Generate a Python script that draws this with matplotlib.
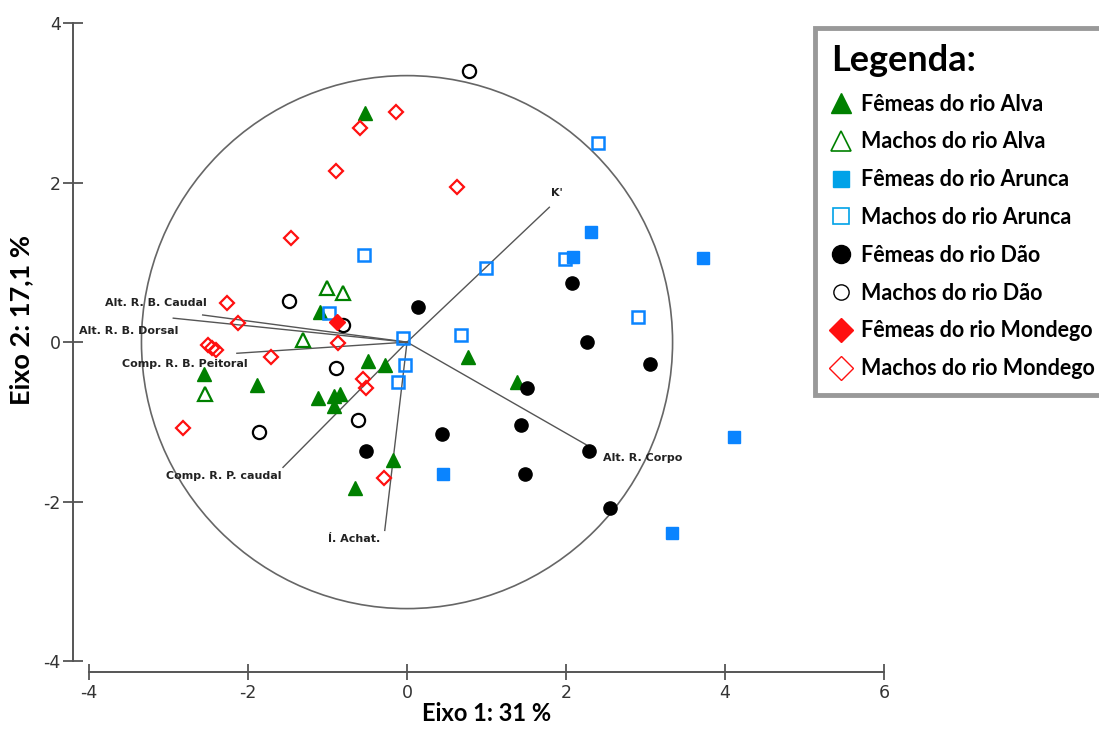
import matplotlib
matplotlib.use("Agg")
import matplotlib.pyplot as plt
from matplotlib.lines import Line2D
from matplotlib.patches import Circle

plt.rcParams["axes.unicode_minus"] = False

# PCA scores (Eixo 1, Eixo 2)
femeas_alva_x = [-0.53, -1.09, -2.55, -1.89, -1.12, -0.92, -0.84, -0.92, -0.49, -0.28, 0.77, 1.38, -0.18, -0.65]
femeas_alva_y = [2.87, 0.38, -0.40, -0.54, -0.70, -0.68, -0.65, -0.80, -0.24, -0.29, -0.19, -0.50, -1.48, -1.83]

machos_alva_x = [-1.01, -0.81, -1.31, -2.54]
machos_alva_y = [0.68, 0.61, 0.03, -0.65]

femeas_arunca_x = [2.31, 2.09, 3.72, 4.11, 3.33, 0.45]
femeas_arunca_y = [1.38, 1.07, 1.05, -1.19, -2.39, -1.65]

machos_arunca_x = [2.40, -0.54, 0.99, 1.99, 2.91, 0.68, -0.05, -0.03, -0.11, -0.98]
machos_arunca_y = [2.49, 1.09, 0.93, 1.04, 0.31, 0.09, 0.05, -0.29, -0.50, 0.36]

femeas_dao_x = [0.14, 2.08, 2.26, 3.06, 1.51, 0.44, 1.43, 2.29, 1.48, -0.52, 2.55]
femeas_dao_y = [0.44, 0.74, 0.00, -0.28, -0.58, -1.15, -1.04, -1.37, -1.65, -1.37, -2.08]

machos_dao_x = [0.78, -1.48, -0.80, -0.89, -1.86, -0.62]
machos_dao_y = [3.40, 0.51, 0.21, -0.33, -1.13, -0.98]

femeas_mondego_x = [-0.88]
femeas_mondego_y = [0.25]

machos_mondego_x = [-0.14, -0.59, -0.89, 0.63, -1.46, -2.26, -2.13, -2.50, -2.45, -2.40, -1.71, -0.87, -0.55, -0.52, -0.29, -2.82]
machos_mondego_y = [2.89, 2.68, 2.14, 1.95, 1.30, 0.49, 0.24, -0.04, -0.07, -0.10, -0.19, -0.01, -0.46, -0.58, -1.70, -1.08]

# variable vectors (correlation circle, scaled)
var_names = ["K'", "Alt. R. Corpo", "Alt. R. B. Caudal", "Alt. R. B. Dorsal",
             "Comp. R. B. Peitoral", "Comp. R. P. caudal", "Í. Achat."]
var_x = [1.79, 2.26, -2.57, -2.94, -2.14, -1.56, -0.28]
var_y = [1.69, -1.29, 0.34, 0.30, -0.14, -1.57, -2.36]
circle_radius = 3.34

# label offsets from the vector tips
label_dx = [0.10, 0.21, 0.05, 0.06, 0.14, -0.02, -0.06]
label_dy = [0.18, -0.16, 0.15, -0.16, -0.14, -0.11, -0.11]
label_ha = ["center", "left", "right", "right", "right", "right", "right"]

green = "#008000"
blue = "#0a84ff"
red = "#ff1010"

fig = plt.figure(figsize=(10.99, 7.29), dpi=100)
ax = fig.add_axes([0.0665, 0.0776, 0.7524, 0.9128])

ax.set_xlim(-4.2, 6.2)
ax.set_ylim(-4.14, 4.2)

# circle and vectors
ax.add_patch(Circle((0, 0), circle_radius, fill=False, edgecolor="#666666", lw=1.2, zorder=1))
for i, name in enumerate(var_names):
    ax.plot([0, var_x[i]], [0, var_y[i]], color="#555555", lw=1.0, zorder=2)
    ax.text(var_x[i] + label_dx[i], var_y[i] + label_dy[i], name, ha=label_ha[i], va="center",
            fontsize=8, fontweight="bold", color="#222222", family="DejaVu Sans", zorder=5)

ms = 10
ax.plot(femeas_alva_x, femeas_alva_y, "^", ms=ms, color=green, ls="none", zorder=3)
ax.plot(machos_alva_x, machos_alva_y, "^", ms=ms, mfc="none", mec=green, mew=1.6, ls="none", zorder=3)
ax.plot(femeas_arunca_x, femeas_arunca_y, "s", ms=9, color=blue, ls="none", zorder=3)
ax.plot(machos_arunca_x, machos_arunca_y, "s", ms=8.5, mfc="none", mec=blue, mew=1.8, ls="none", zorder=3)
ax.plot(femeas_dao_x, femeas_dao_y, "o", ms=9.5, color="black", ls="none", zorder=3)
ax.plot(machos_dao_x, machos_dao_y, "o", ms=9.5, mfc="none", mec="black", mew=1.6, ls="none", zorder=3)
ax.plot(femeas_mondego_x, femeas_mondego_y, "D", ms=8, color=red, ls="none", zorder=3)
ax.plot(machos_mondego_x, machos_mondego_y, "D", ms=7.5, mfc="none", mec=red, mew=1.6, ls="none", zorder=3)

# axes styling
for side in ["top", "right"]:
    ax.spines[side].set_visible(False)
ax.spines["left"].set_bounds(-4, 4)
ax.spines["bottom"].set_bounds(-4, 6)
for side in ["left", "bottom"]:
    ax.spines[side].set_color("#555555")
    ax.spines[side].set_linewidth(1.4)
ax.set_xticks([-4, -2, 0, 2, 4, 6])
ax.set_yticks([-4, -2, 0, 2, 4])
ax.tick_params(axis="x", direction="inout", length=11, width=1.3, color="#555555",
               labelsize=12.5, labelcolor="#333333", pad=3)
ax.tick_params(axis="y", direction="inout", length=14, width=1.3, color="#555555",
               labelsize=12.5, labelcolor="#333333", pad=2)

ax.set_xlabel("Eixo 1: 31 %", fontsize=17, fontweight="bold", family="Lato", labelpad=0)
ax.set_ylabel("Eixo 2: 17,1 %", fontsize=19.5, fontweight="bold", family="Lato")
ax.yaxis.set_label_coords(-0.048, 0.53)

# legend box
handles = [
    Line2D([], [], marker="^", ls="none", ms=14, color=green),
    Line2D([], [], marker="^", ls="none", ms=14, mfc="none", mec=green, mew=1.2),
    Line2D([], [], marker="s", ls="none", ms=12, color="#00a2e8"),
    Line2D([], [], marker="s", ls="none", ms=12, mfc="none", mec="#00a2e8", mew=1.2),
    Line2D([], [], marker="o", ls="none", ms=13, color="black"),
    Line2D([], [], marker="o", ls="none", ms=11, mfc="none", mec="black", mew=1.0),
    Line2D([], [], marker="D", ls="none", ms=12, color=red),
    Line2D([], [], marker="D", ls="none", ms=12, mfc="none", mec=red, mew=1.0),
]
labels = ["Fêmeas do rio Alva", "Machos do rio Alva", "Fêmeas do rio Arunca",
          "Machos do rio Arunca", "Fêmeas do rio Dão", "Machos do rio Dão",
          "Fêmeas do rio Mondego", "Machos do rio Mondego"]
leg = fig.legend(handles, labels, loc="upper left", bbox_to_anchor=(0.742, 0.962),
                 title="Legenda:", alignment="left", frameon=True, fancybox=False,
                 handlelength=0.9, handletextpad=0.45, labelspacing=0.78,
                 borderpad=0.75, borderaxespad=0,
                 prop={"family": "Lato", "weight": "bold", "size": 15.5},
                 title_fontproperties={"family": "Lato", "weight": "bold", "size": 26})
leg.get_frame().set_edgecolor("#808080")
leg.get_frame().set_linewidth(3.5)

fig.savefig("out.png", dpi=100)
